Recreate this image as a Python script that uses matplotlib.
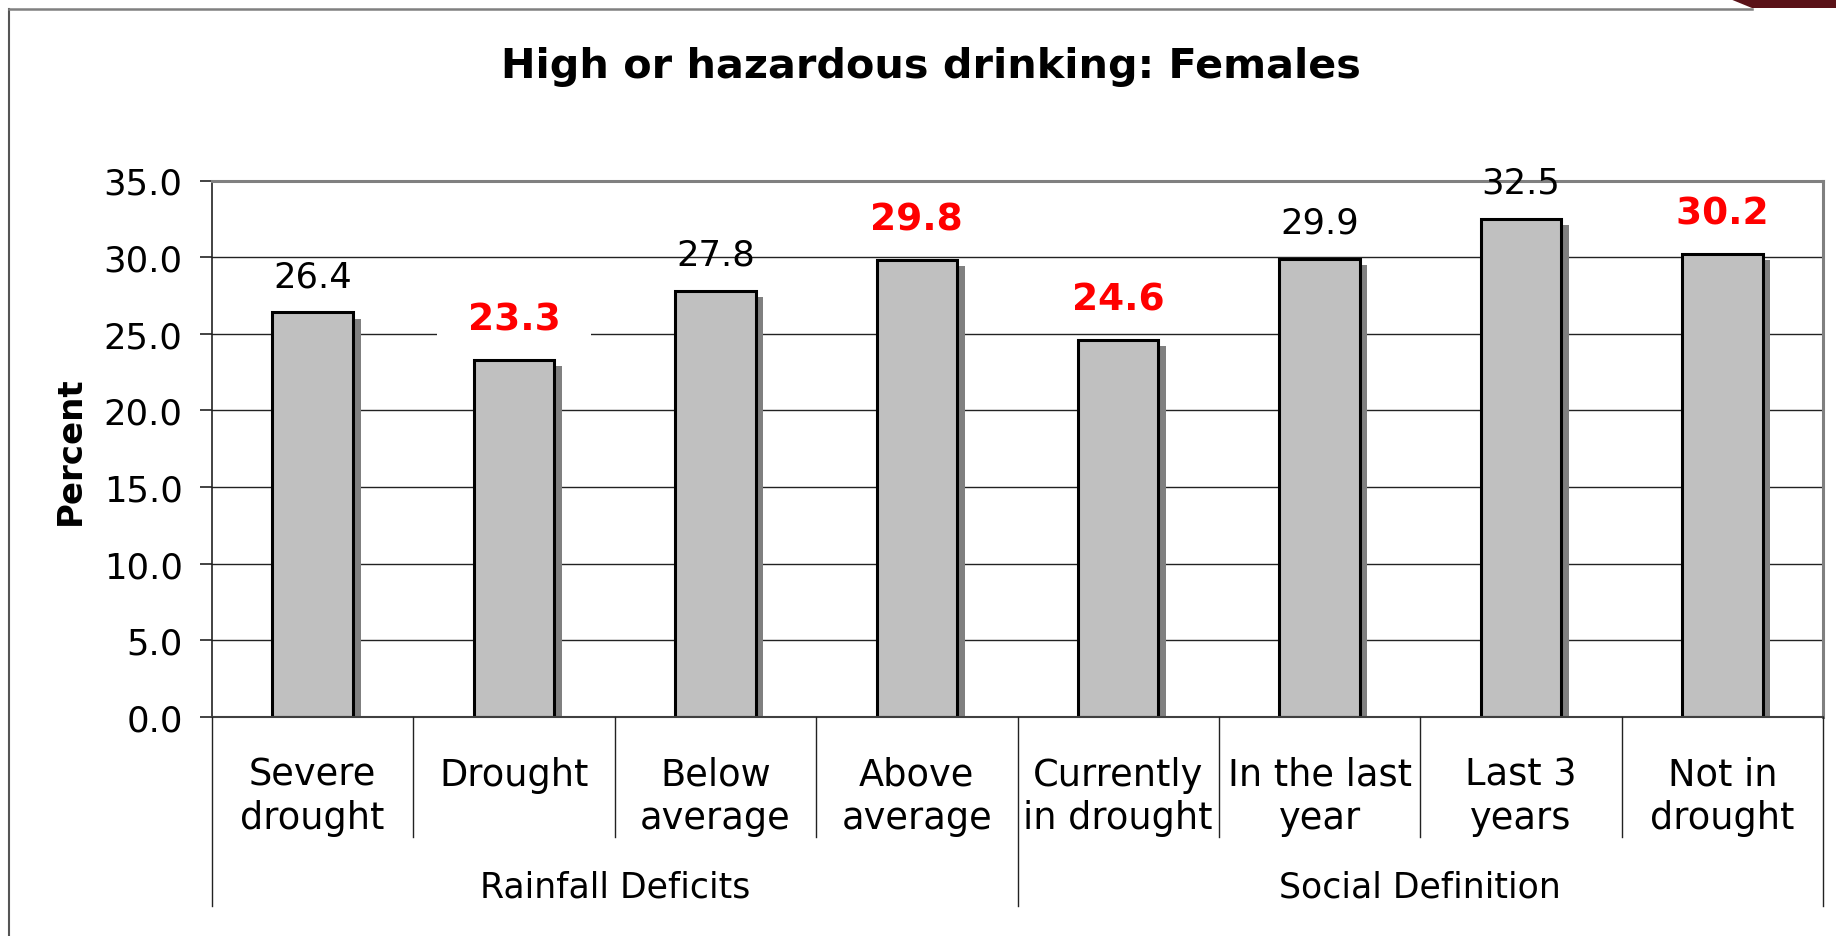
import matplotlib
matplotlib.use('Agg')
import matplotlib.pyplot as plt
import matplotlib.patheffects as pe
from matplotlib.lines import Line2D
from matplotlib.patches import Polygon
from matplotlib.transforms import blended_transform_factory

categories = ['Severe\ndrought', 'Drought', 'Below\naverage', 'Above\naverage',
              'Currently\nin drought', 'In the last\nyear', 'Last 3\nyears', 'Not in\ndrought']
values = [26.4, 23.3, 27.8, 29.8, 24.6, 29.9, 32.5, 30.2]
highlight = [False, True, False, True, True, False, False, True]
groups = ['Rainfall Deficits', 'Social Definition']
group_sizes = [4, 4]
yticks = [0, 5, 10, 15, 20, 25, 30, 35]

W, H = 1836, 937
fig = plt.figure(figsize=(W / 100, H / 100), dpi=100)
fig.patch.set_facecolor('white')

# axes placed by pixel measurements of the reference
left, right, top, bottom = 212, 1823, 181.5, 718
ax = fig.add_axes([left / W, 1 - bottom / H, (right - left) / W, (bottom - top) / H])

x = list(range(len(values)))
shadow = [pe.SimplePatchShadow(offset=(5.5, -4.5), shadow_rgbFace='#808080', alpha=1.0), pe.Normal()]
bars = ax.bar(x, values, width=0.4, color='#c0c0c0', edgecolor='black', linewidth=2.2, zorder=2)
for b in bars:
    b.set_path_effects(shadow)

for yv in yticks[1:-1]:
    ax.axhline(yv, color='#222222', linewidth=1.0, zorder=0.5)

ax.set_xlim(-0.5, len(values) - 0.5)
ax.set_ylim(0, 35)
ax.set_yticks(yticks)
ax.set_yticklabels(['%.1f' % v for v in yticks], fontsize=25.5)
ax.tick_params(axis='y', length=8.6, width=1.2, pad=12.5, color='#222222')
ax.set_xticks([])

ax.spines['left'].set_color('#222222')
ax.spines['left'].set_linewidth(1.2)
ax.spines['bottom'].set_color('#404040')
ax.spines['bottom'].set_linewidth(1.5)
for s in ['top', 'right']:
    ax.spines[s].set_color('#808080')
    ax.spines[s].set_linewidth(2.2)

# value labels (highlighted ones sit on a white box, as in the original)
for i, v in enumerate(values):
    if highlight[i]:
        ax.annotate('  %.1f  ' % v, xy=(i, v), xytext=(0, 29), textcoords='offset points',
                    ha='center', va='center', fontsize=27, fontweight='bold', color='red',
                    bbox=dict(boxstyle='square,pad=0.12', fc='white', ec='none'), zorder=5)
    else:
        ax.annotate('%.1f' % v, xy=(i, v), xytext=(0, 26), textcoords='offset points',
                    ha='center', va='center', fontsize=25.5, color='black', zorder=5)

# category axis: labels, group labels and divider lines
bt = blended_transform_factory(ax.transData, fig.transFigure)
for i, c in enumerate(categories):
    fig.text(i, 1 - 757 / H, c, transform=bt, ha='center', va='top',
             fontsize=26.5, linespacing=1.22)

y_axis = 1 - bottom / H
y_inner = 1 - 838 / H
y_outer = 1 - 907 / H
start = 0
edges = [-0.5]
for g, n in zip(groups, group_sizes):
    mid = start + (n - 1) / 2
    fig.text(mid, 1 - 898 / H, g, transform=bt, ha='center', va='baseline', fontsize=25)
    start += n
    edges.append(start - 0.5)
for k in range(len(values) + 1):
    xe = k - 0.5
    y_end = y_outer if xe in edges else y_inner
    fig.add_artist(Line2D([xe, xe], [y_axis, y_end], transform=bt, color='#222222', linewidth=1.0))

fig.text(931 / W, 1 - 67 / H, 'High or hazardous drinking: Females', ha='center', va='center',
         fontsize=29.8, fontweight='bold')
fig.text(70 / W, 1 - 451 / H, 'Percent', rotation=90, ha='center', va='center',
         fontsize=24.5, fontweight='bold')

# outer frame and slide decoration
fig.add_artist(Line2D([9 / W, 9 / W], [0, 1 - 10 / H], transform=fig.transFigure,
                      color='#555555', linewidth=1.5))
fig.add_artist(Line2D([9 / W, 1752 / W], [1 - 10 / H, 1 - 10 / H], transform=fig.transFigure,
                      color='#808080', linewidth=1.8))
fig.add_artist(Polygon([[1730 / W, 1], [1, 1], [1, 1 - 9 / H], [1752 / W, 1 - 9 / H]],
                       closed=True, transform=fig.transFigure, facecolor='#5a1218', edgecolor='none'))

fig.savefig('out.png', dpi=100)
